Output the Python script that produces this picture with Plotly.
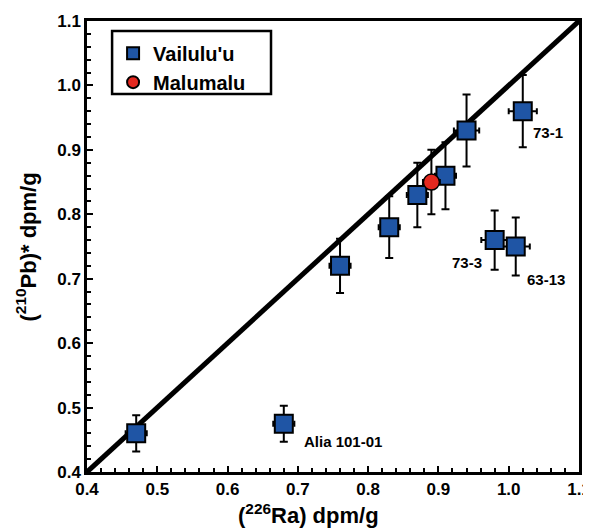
import plotly.graph_objects as go

# Vailulu'u samples
v_ra = [0.47, 0.68, 0.76, 0.83, 0.87, 0.91, 0.94, 1.02, 0.98, 1.01]
v_pb = [0.46, 0.475, 0.72, 0.78, 0.83, 0.86, 0.93, 0.96, 0.76, 0.75]
v_pb_err = [0.028, 0.028, 0.042, 0.048, 0.05, 0.052, 0.056, 0.056, 0.046, 0.045]
v_ra_err = [0.015, 0.015, 0.015, 0.015, 0.015, 0.015, 0.018, 0.02, 0.019, 0.02]

# Malumalu sample
m_ra = [0.89]
m_pb = [0.85]
m_pb_err = [0.05]
m_ra_err = [0.012]

# 1:1 line
line_x = [0.4, 1.1]
line_y = [0.4, 1.1]

# sample labels
lab_text = ["73-1", "73-3", "63-13", "Alia 101-01"]
lab_x = [1.02, 0.98, 1.01, 0.68]
lab_y = [0.96, 0.76, 0.75, 0.475]

FONT = "Liberation Sans, Arial, Helvetica, sans-serif"

fig = go.Figure()
fig.add_trace(go.Scatter(x=line_x, y=line_y, mode="lines",
                         line=dict(color="black", width=5),
                         showlegend=False, hoverinfo="skip"))
fig.add_trace(go.Scatter(
    x=v_ra, y=v_pb, mode="markers", name="Vailulu'u",
    marker=dict(symbol="square", size=18, color="#1f55a5",
                line=dict(color="black", width=2)),
    error_y=dict(type="data", array=v_pb_err, color="black", thickness=2, width=4),
    error_x=dict(type="data", array=v_ra_err, color="black", thickness=2, width=3),
))
fig.add_trace(go.Scatter(
    x=m_ra, y=m_pb, mode="markers", name="Malumalu",
    marker=dict(symbol="circle", size=16, color="#e3281f",
                line=dict(color="black", width=1.5)),
    error_y=dict(type="data", array=m_pb_err, color="black", thickness=2, width=4),
    error_x=dict(type="data", array=m_ra_err, color="black", thickness=2, width=3),
))

# label offsets in pixels (right, down)
offsets = [(25, 21), (-28, 22), (30, 33), (59, 18)]
for t, x, y, (ax, ay) in zip(lab_text, lab_x, lab_y, offsets):
    fig.add_annotation(x=x, y=y, text="<b>" + t + "</b>", showarrow=False,
                       xshift=ax, yshift=-ay,
                       font=dict(family=FONT, size=15, color="black"))

# axis titles
fig.add_annotation(xref="paper", yref="paper", x=0.45, y=-0.094,
                   text="<b>(<sup>226</sup>Ra) dpm/g</b>", showarrow=False,
                   xanchor="center", yanchor="middle",
                   font=dict(family=FONT, size=22, color="black"))
fig.add_annotation(xref="paper", yref="paper", x=-0.124, y=0.50,
                   text="<b>(<sup>210</sup>Pb)* dpm/g</b>", showarrow=False,
                   xanchor="center", yanchor="middle", textangle=-90,
                   font=dict(family=FONT, size=22, color="black"))

# legend frame
fig.add_shape(type="rect", xref="paper", yref="paper",
              x0=0.051, x1=0.374, y0=0.838, y1=0.978,
              line=dict(color="black", width=2.5), fillcolor="white", layer="below")

axis_common = dict(
    showline=True, linecolor="black", linewidth=2.5, mirror=True,
    ticks="inside", ticklen=6, tickwidth=2, tickcolor="black",
    minor=dict(ticks="inside", ticklen=4, tickwidth=2, dtick=0.02, tick0=0.4,
               tickcolor="black", showgrid=False),
    showgrid=False, zeroline=False, tick0=0.4, dtick=0.1, tickformat=".1f",
    tickfont=dict(family=FONT, size=17, color="black", weight="bold"),
    automargin=False, range=[0.4, 1.1],
)

fig.update_xaxes(**axis_common)
fig.update_yaxes(**axis_common)

fig.update_layout(
    width=583, height=521,
    margin=dict(l=79, r=12, t=13, b=57),
    plot_bgcolor="white", paper_bgcolor="white",
    legend=dict(x=0.053, y=0.972, xanchor="left", yanchor="top",
                borderwidth=0, bgcolor="rgba(0,0,0,0)",
                font=dict(family=FONT, size=20, color="black", weight="bold"),
                itemsizing="constant", tracegroupgap=0),
    font=dict(family=FONT, color="black"),
)

fig.write_html("out.html")
